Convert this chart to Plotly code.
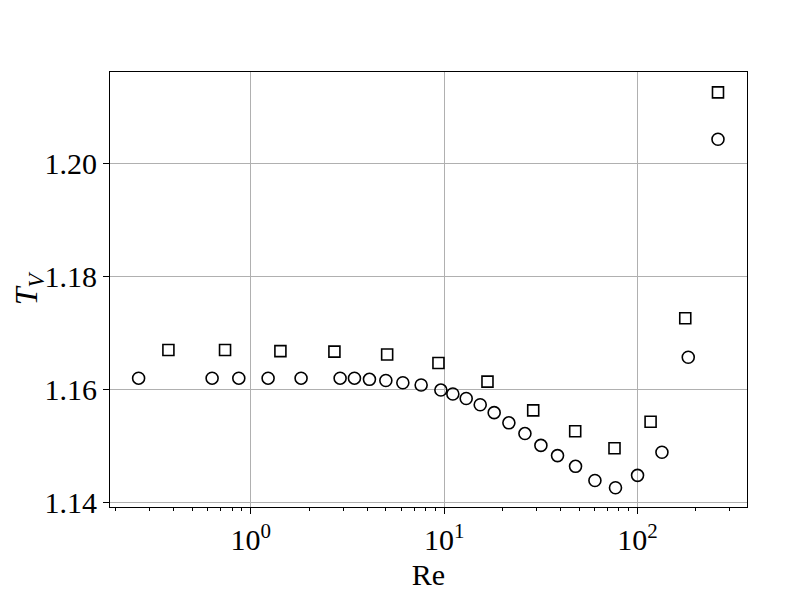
import plotly.graph_objects as go

# Circles series
re_circle = [0.263, 0.631, 0.867, 1.229, 1.82, 2.897, 3.436, 4.108, 4.994, 6.114,
             7.603, 9.614, 11.09, 13.0, 15.36, 18.14, 21.61, 26.16, 31.64, 38.57,
             47.79, 60.2, 76.9, 100.0, 133.7, 182.9, 260.6]
tv_circle = [1.1620, 1.1620, 1.1620, 1.1620, 1.1620, 1.1620, 1.1620, 1.1618, 1.1616, 1.1612,
             1.1608, 1.1599, 1.1592, 1.1584, 1.1573, 1.1559, 1.1541, 1.1522, 1.1501, 1.1483,
             1.1464, 1.1439, 1.1426, 1.1448, 1.1489, 1.1657, 1.2043]

# Squares series
re_square = [0.375, 0.736, 1.423, 2.707, 5.072, 9.343, 16.75, 28.87, 47.6, 76.0,
             116.8, 176.5, 260.6]
tv_square = [1.1670, 1.1670, 1.1668, 1.1667, 1.1662, 1.1647, 1.1614, 1.1563, 1.1526, 1.1496,
             1.1543, 1.1726, 1.2126]

x_tickvals = [1, 10, 100]
x_ticktext = ["10<sup>0</sup>", "10<sup>1</sup>", "10<sup>2</sup>"]
x_minor = [m * 10 ** e for e in (-1, 0, 1, 2) for m in range(2, 10) if m * 10 ** e < 370]
y_tickvals = [1.14, 1.16, 1.18, 1.20]
y_ticktext = ["1.14", "1.16", "1.18", "1.20"]

FONT = "Liberation Serif"

fig = go.Figure()

fig.add_trace(go.Scatter(
    x=re_square, y=tv_square, mode="markers",
    marker=dict(symbol="square-open", size=11, color="black", line=dict(width=1.6)),
    showlegend=False,
))
fig.add_trace(go.Scatter(
    x=re_circle, y=tv_circle, mode="markers",
    marker=dict(symbol="circle-open", size=12, color="black", line=dict(width=1.6)),
    showlegend=False,
))

# page body has an 8px margin, so the figure is a bit smaller than the window
fig.update_layout(
    width=788, height=589,
    margin=dict(l=102, r=49, t=64, b=90),
    paper_bgcolor="white", plot_bgcolor="white",
    font=dict(family=FONT, color="black", size=30),
    xaxis=dict(
        type="log", range=[-0.728, 2.566], automargin=False,
        tickvals=x_tickvals, ticktext=x_ticktext,
        ticks="outside", ticklen=6, tickwidth=1, tickcolor="black",
        showline=True, linecolor="black", linewidth=1.2, mirror=True,
        showgrid=True, gridcolor="#b0b0b0", gridwidth=1,
        minor=dict(tickmode="array", tickvals=x_minor, ticks="outside", ticklen=3,
                   tickwidth=1, tickcolor="black", showgrid=False),
        zeroline=False,
        title=dict(text="Re", font=dict(size=30), standoff=8),
    ),
    yaxis=dict(
        range=[1.1392, 1.2162], automargin=False,
        tickvals=y_tickvals, ticktext=y_ticktext,
        ticks="outside", ticklen=6, tickwidth=1, tickcolor="black",
        showline=True, linecolor="black", linewidth=1.2, mirror=True,
        showgrid=True, gridcolor="#b0b0b0", gridwidth=1,
        zeroline=False,
        title=dict(text="<i>T</i><sub><i>V</i></sub>", font=dict(size=32), standoff=12),
    ),
)

fig.write_html("out.html")
